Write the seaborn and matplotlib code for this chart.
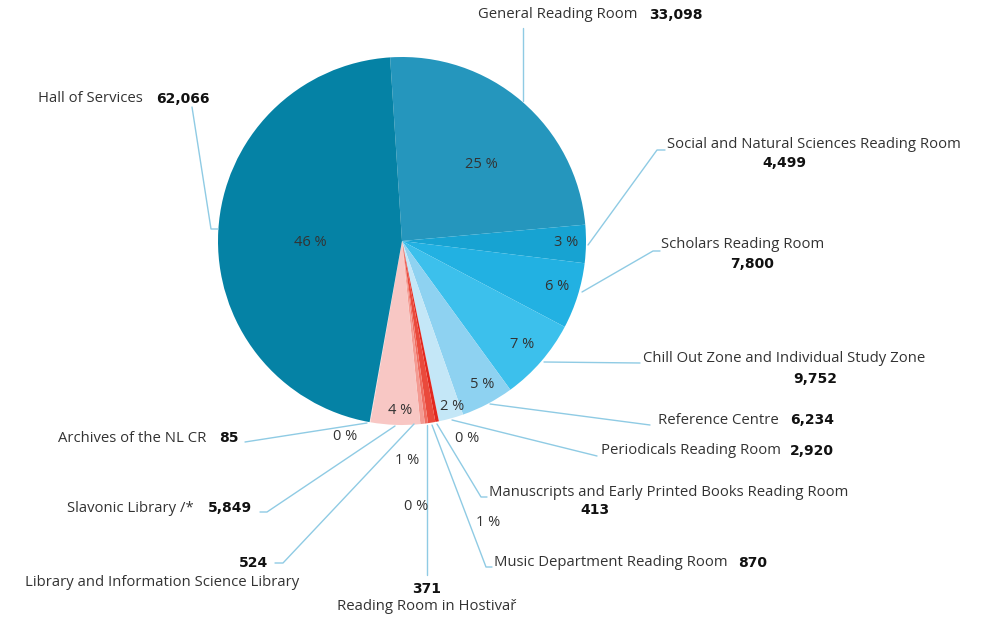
import matplotlib
matplotlib.use("Agg")
import matplotlib.pyplot as plt
import seaborn as sns

# reading rooms, clockwise from 12 o'clock
rooms = ['General Reading Room', 'Social and Natural Sciences Reading Room',
         'Scholars Reading Room', 'Chill Out Zone and Individual Study Zone',
         'Reference Centre', 'Periodicals Reading Room',
         'Manuscripts and Early Printed Books Reading Room',
         'Music Department Reading Room', 'Reading Room in Hostivař',
         'Library and Information Science Library', 'Slavonic Library /*',
         'Archives of the NL CR', 'Hall of Services']
visits = [33098, 4499, 7800, 9752, 6234, 2920, 413, 870, 371, 524, 5849, 85, 62066]
pct_labels = ['25 %', '3 %', '6 %', '7 %', '5 %', '2 %', '0 %', '1 %', '0 %', '1 %', '4 %', '0 %', '46 %']
colors = ['#2596bd', '#17a3d2', '#22b1e2', '#3cc0ec', '#8ed2f1', '#c4e7f7',
          '#e2281f', '#ea4a3c', '#ef6e62', '#f49a92', '#f8c7c4', '#fbdad8', '#0582a5']

sns.set_theme(style='white')
plt.rcParams['font.family'] = ['Open Sans', 'DejaVu Sans']

W, H = 988, 620
fig = plt.figure(figsize=(W / 100, H / 100), dpi=100)
ax = fig.add_axes([0, 0, 1, 1])
ax.axis('off')


def py(y):
    return H - y


cx, cy, r = 402, 241, 184
ax.pie(visits, colors=colors, startangle=93.7, counterclock=False,
       center=(cx, py(cy)), radius=r, wedgeprops=dict(linewidth=0))
ax.set_xlim(0, W)
ax.set_ylim(0, H)
ax.set_aspect('equal')

# percent label positions (pixels)
pct_pos = [(481, 165), (566, 242), (557, 287), (522, 344), (482, 385), (452, 407),
           (467, 438), (488, 523), (416, 507), (407, 461), (400, 410), (345, 437), (310, 242)]
for t, (x, y) in zip(pct_labels, pct_pos):
    ax.text(x, py(y), t, ha='center', va='center', fontsize=10.5, color='#333333')

# leader lines (pixels)
lines = [
    [(523, 28), (523, 101)],
    [(588, 245), (657, 150), (665, 150)],
    [(582, 292), (653, 251), (660, 251)],
    [(544, 362), (640, 363)],
    [(490, 404), (650, 425)],
    [(452, 420), (597, 456)],
    [(437, 424), (481, 497), (487, 497)],
    [(432, 425), (486, 567), (492, 567)],
    [(427, 425), (427, 575)],
    [(414, 424), (283, 563), (275, 563)],
    [(395, 426), (267, 512), (260, 512)],
    [(367, 423), (245, 442)],
    [(192, 107), (211, 229), (218, 229)],
]
for pts in lines:
    ax.plot([p[0] for p in pts], [py(p[1]) for p in pts], color='#8fcbe4', lw=1)

# (name x, y, ha), (value x, y, ha)
layout = [
    ((478, 15, 'left'), (649, 15, 'left')),
    ((667, 144, 'left'), (784, 163, 'center')),
    ((661, 245, 'left'), (752, 264, 'center')),
    ((643, 359, 'left'), (815, 379, 'center')),
    ((658, 420, 'left'), (790, 420, 'left')),
    ((601, 451, 'left'), (790, 451, 'left')),
    ((489, 492, 'left'), (595, 510, 'center')),
    ((494, 563, 'left'), (738, 563, 'left')),
    ((427, 607, 'center'), (427, 589, 'center')),
    ((25, 583, 'left'), (268, 563, 'right')),
    ((67, 508, 'left'), (208, 508, 'left')),
    ((58, 438, 'left'), (219, 438, 'left')),
    ((38, 99, 'left'), (156, 99, 'left')),
]
for name, v, (n, val) in zip(rooms, visits, layout):
    ax.text(n[0], py(n[1]), name, ha=n[2], va='center', fontsize=10.7, color='#333333')
    ax.text(val[0], py(val[1]), f'{v:,}', ha=val[2], va='center', fontsize=10,
            fontweight='bold', family='DejaVu Sans', color='#111111')

fig.savefig('out.png', dpi=100, facecolor='white')
